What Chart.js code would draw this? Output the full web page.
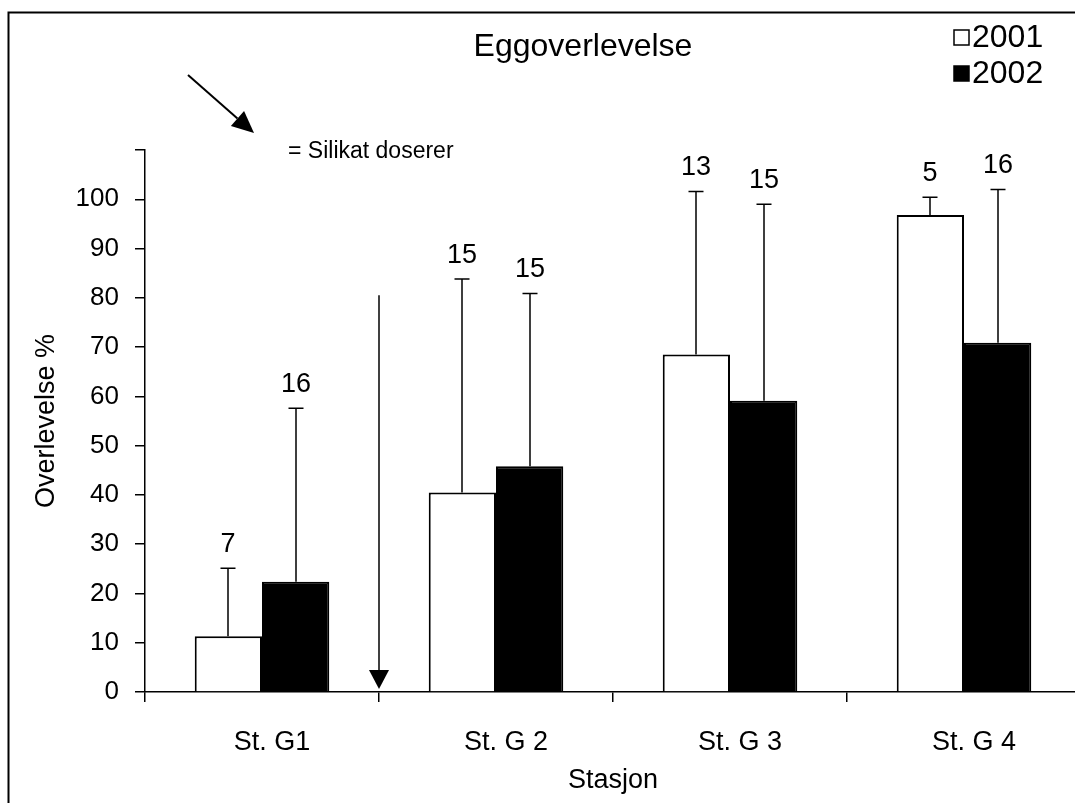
<!DOCTYPE html>
<html>
<head>
<meta charset="utf-8">
<script src="https://cdn.jsdelivr.net/npm/chart.js@4/dist/chart.umd.min.js"></script>
<style>
  html, body { margin: 0; padding: 0; overflow: hidden; background: #fff; }
  canvas { display: block; }
</style>
</head>
<body>
<canvas id="chart" width="1100" height="803"></canvas>
<script>
// Egg survival (%) per station, mean + standard deviation, n per bar
const stations = ['St. G1', 'St. G 2', 'St. G 3', 'St. G 4'];
const years = ['2001', '2002'];
const survival2001 = [11.3, 40.5, 68.5, 96.8];
const survival2002 = [22.4, 45.8, 59.1, 70.9];
const sd2001 = [13.8, 43.3, 33.1, 3.6];
const sd2002 = [35.2, 35.1, 39.9, 31.1];
const n2001 = [7, 15, 13, 5];
const n2002 = [16, 15, 15, 16];
const yMax = 110;
const yStep = 10;
const lastLabelledTick = 100;
// silicate dosing starts between the first and second station
const dosingFromIndex = 0;
const dosingArrowTop = 80.5;

const FONT = "'Liberation Sans', Arial, Helvetica, sans-serif";

function arrow(ctx, x1, y1, x2, y2, headLen, headHalf) {
  const a = Math.atan2(y2 - y1, x2 - x1);
  const bx = x2 - headLen * Math.cos(a);
  const by = y2 - headLen * Math.sin(a);
  ctx.beginPath();
  ctx.moveTo(x1, y1);
  ctx.lineTo(bx, by);
  ctx.stroke();
  ctx.beginPath();
  ctx.moveTo(x2, y2);
  ctx.lineTo(bx + headHalf * Math.sin(a), by - headHalf * Math.cos(a));
  ctx.lineTo(bx - headHalf * Math.sin(a), by + headHalf * Math.cos(a));
  ctx.closePath();
  ctx.fill();
}

// Standard deviation whiskers with sample counts on top
const errorBars = {
  id: 'errorBars',
  afterDatasetsDraw(chart) {
    const { ctx } = chart;
    const y = chart.scales.y;
    const sets = [[survival2001, sd2001, n2001], [survival2002, sd2002, n2002]];
    ctx.save();
    ctx.strokeStyle = '#000';
    ctx.fillStyle = '#000';
    ctx.lineWidth = 1.5;
    ctx.font = '27px ' + FONT;
    ctx.textAlign = 'center';
    ctx.textBaseline = 'alphabetic';
    sets.forEach(([mean, sd, n], di) => {
      chart.getDatasetMeta(di).data.forEach((bar, i) => {
        const x = Math.round(bar.x);
        const yTop = y.getPixelForValue(mean[i] + sd[i]);
        const yBar = y.getPixelForValue(mean[i]);
        ctx.beginPath();
        ctx.moveTo(x, yBar);
        ctx.lineTo(x, yTop);
        ctx.moveTo(x - 7.5, yTop);
        ctx.lineTo(x + 7.5, yTop);
        ctx.stroke();
        ctx.fillText(String(n[i]), x, yTop - 16);
      });
    });
    ctx.restore();
  }
};

// Frame, heading, legend and the dosing markers
const decorations = {
  id: 'decorations',
  afterDraw(chart) {
    const { ctx } = chart;
    const xs = chart.scales.x;
    const ys = chart.scales.y;
    ctx.save();
    ctx.strokeStyle = '#000';
    ctx.fillStyle = '#000';

    ctx.lineWidth = 2;
    ctx.strokeRect(8.5, 12.5, 1085, 820);

    ctx.font = '32px ' + FONT;
    ctx.textAlign = 'center';
    ctx.textBaseline = 'middle';
    ctx.fillText('Eggoverlevelse', 583, 47);

    // legend
    const rows = [38, 74];
    ctx.textAlign = 'left';
    chart.data.datasets.forEach((ds, i) => {
      ctx.fillStyle = ds.backgroundColor;
      ctx.fillRect(954, rows[i] - 8, 15, 15);
      ctx.lineWidth = 1.5;
      ctx.strokeRect(954, rows[i] - 8, 15, 15);
      ctx.fillStyle = '#000';
      ctx.fillText(ds.label, 972, rows[i]);
    });

    // key arrow and its text
    ctx.lineWidth = 2;
    arrow(ctx, 188, 75, 254, 133, 22, 10);
    ctx.font = '23px ' + FONT;
    ctx.textBaseline = 'middle';
    ctx.fillText('= Silikat doserer', 288, 152);

    // dosing point between stations
    const xd = (xs.getPixelForValue(dosingFromIndex) + xs.getPixelForValue(dosingFromIndex + 1)) / 2;
    ctx.lineWidth = 1.5;
    arrow(ctx, xd, ys.getPixelForValue(dosingArrowTop), xd, ys.getPixelForValue(0) - 3, 19, 10);
    ctx.restore();
  }
};

const barStyle = { borderColor: '#000', borderWidth: 2, barPercentage: 1, categoryPercentage: 0.575 };

new Chart(document.getElementById('chart'), {
  type: 'bar',
  data: {
    labels: stations,
    datasets: [
      Object.assign({ label: years[0], data: survival2001, backgroundColor: '#fff' }, barStyle),
      Object.assign({ label: years[1], data: survival2002, backgroundColor: '#000' }, barStyle)
    ]
  },
  options: {
    responsive: false,
    animation: false,
    devicePixelRatio: 1,
    layout: { padding: { top: 150, right: 19, left: 0, bottom: 0 } },
    plugins: { legend: { display: false }, title: { display: false }, tooltip: { enabled: false } },
    scales: {
      x: {
        offset: true,
        grid: { display: true, offset: true, drawOnChartArea: false, drawTicks: true, tickLength: 10, color: '#000', lineWidth: 1.5 },
        border: { display: true, color: '#000', width: 1.5 },
        ticks: { color: '#000', font: { family: FONT, size: 27 }, padding: 24, labelOffset: 10 },
        title: { display: true, text: 'Stasjon', color: '#000', font: { family: FONT, size: 27 }, padding: { top: 0, bottom: 6 } },
        afterFit(s) { s.height = 111; }
      },
      y: {
        min: 0,
        max: yMax,
        grid: { display: true, drawOnChartArea: false, drawTicks: true, tickLength: 10, color: '#000', lineWidth: 1.5 },
        border: { display: true, color: '#000', width: 1.5 },
        ticks: {
          stepSize: yStep,
          color: '#000',
          font: { family: FONT, size: 26 },
          padding: 16,
          callback: v => (v > lastLabelledTick ? '' : v)
        },
        title: { display: true, text: 'Overlevelse %', color: '#000', font: { family: FONT, size: 27 }, padding: { top: 30 } },
        afterFit(s) { s.width = 145; }
      }
    }
  },
  plugins: [errorBars, decorations]
});
</script>
</body>
</html>
